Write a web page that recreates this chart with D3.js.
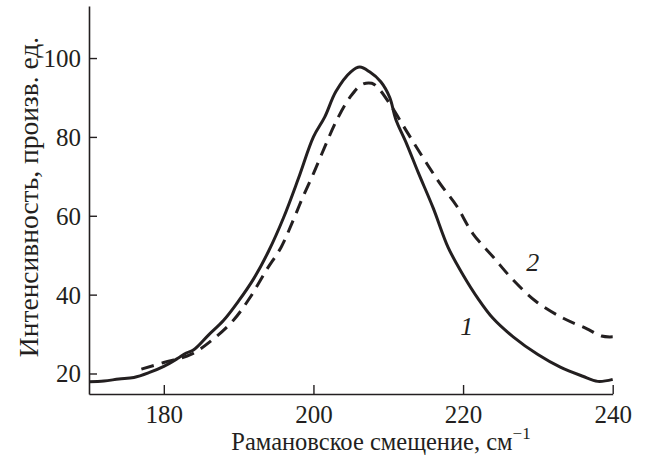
<!DOCTYPE html>
<html>
<head>
<meta charset="utf-8">
<script src="https://cdn.jsdelivr.net/npm/d3@7"></script>
<style>
  html, body { margin: 0; padding: 0; background: #fff; }
  svg text { font-family: "Liberation Serif", "Times New Roman", serif; fill: #231f20; }
</style>
</head>
<body>
<div id="chart"></div>
<script>
// Raman shift (cm^-1) and intensity
var shift1 = [170, 172, 174, 176, 178, 180, 182, 183, 184, 186, 188, 190, 192, 194, 196, 198, 200, 201.5, 203, 205, 206.2, 207.5, 209, 210.2, 211, 212.4, 214, 216, 218, 220, 222, 224, 226.7, 230, 233, 236, 238, 240];
var inten1 = [17.9, 18.1, 18.6, 19.0, 20.2, 21.8, 24.0, 25.2, 26.0, 29.8, 33.5, 38.4, 44.0, 51.0, 59.5, 69.5, 80.0, 85.0, 91.5, 96.5, 97.7, 96.5, 94.0, 90.0, 84.5, 78.5, 71.0, 62.0, 52.0, 45.0, 39.0, 34.0, 29.3, 24.8, 21.6, 19.3, 18.0, 18.5];

var shift2 = [177, 180, 183.7, 186.6, 189.3, 191.5, 193.7, 195.7, 197.3, 198.6, 200, 201.5, 203.1, 204.9, 206.5, 207.8, 208.6, 210.2, 212.4, 214.6, 216.9, 219.1, 221.3, 224, 226.7, 229.8, 233.4, 236.5, 238.5, 240];
var inten2 = [21.1, 22.8, 24.9, 28.7, 33.5, 39.2, 46.2, 52.1, 58.9, 64.8, 70.7, 77.4, 84.2, 90.1, 93.3, 93.6, 92.5, 88.4, 81.6, 74.9, 68.2, 62.6, 55.5, 49.6, 43.7, 38.2, 34.0, 31.4, 29.5, 29.3];

var xTicks = [180, 200, 220, 240];
var yTicks = [20, 40, 60, 80, 100];
var curveLabels = [
    { text: "1", x: 220.5, y: 32.0 },
    { text: "2", x: 229.3, y: 48.3 }
];

var W = 649, H = 462;
var svg = d3.select("#chart").append("svg")
    .attr("width", W).attr("height", H);

var x = d3.scaleLinear().domain([170, 240]).range([89, 612.7]);
var y = d3.scaleLinear().domain([14.8, 113.2]).range([394, 6]);

// Axes (ticks point inward)
var xAxis = svg.append("g")
    .attr("transform", "translate(0," + y(14.8) + ")")
    .call(d3.axisBottom(x).tickValues(xTicks).tickSizeInner(-9).tickSizeOuter(0).tickPadding(11));
var yAxis = svg.append("g")
    .attr("transform", "translate(" + x(170) + ",0)")
    .call(d3.axisLeft(y).tickValues(yTicks).tickSizeInner(-8).tickSizeOuter(0).tickPadding(8));

[xAxis, yAxis].forEach(function (g) {
    g.attr("font-family", null).attr("font-size", null);
    g.select(".domain").attr("stroke", "#231f20").attr("stroke-width", 1.6);
    g.selectAll(".tick line").attr("stroke", "#231f20").attr("stroke-width", 1.4);
    g.selectAll(".tick text")
        .attr("fill", "#231f20")
        .style("font-size", "25px");
});
yAxis.selectAll(".tick text").attr("dy", "0.34em");

// Curves
var series = [
    { xs: shift1, ys: inten1, dash: null },
    { xs: shift2, ys: inten2, dash: "13,8" }
];
var line = d3.line()
    .x(function (d) { return x(d[0]); })
    .y(function (d) { return y(d[1]); })
    .curve(d3.curveCatmullRom.alpha(0.5));

series.forEach(function (s) {
    svg.append("path")
        .datum(d3.zip(s.xs, s.ys))
        .attr("d", line)
        .attr("fill", "none")
        .attr("stroke", "#231f20")
        .attr("stroke-width", 3)
        .attr("stroke-linejoin", "round")
        .attr("stroke-dasharray", s.dash);
});

// Curve numbers
svg.selectAll(".clabel").data(curveLabels).enter().append("text")
    .attr("class", "clabel")
    .attr("x", function (d) { return x(d.x); })
    .attr("y", function (d) { return y(d.y); })
    .attr("text-anchor", "middle")
    .attr("dy", "0.35em")
    .style("font-style", "italic")
    .style("font-size", "26px")
    .text(function (d) { return d.text; });

// Axis titles
var xt = svg.append("text")
    .attr("x", 381).attr("y", 450)
    .attr("text-anchor", "middle")
    .style("font-size", "24.5px");
xt.append("tspan").text("Рамановское смещение, см");
xt.append("tspan").attr("dy", -11).style("font-size", "17px").text("−1");

svg.append("text")
    .attr("transform", "translate(38,197) rotate(-90)")
    .attr("text-anchor", "middle")
    .style("font-size", "27.5px")
    .text("Интенсивность, произв. ед.");
</script>
</body>
</html>
